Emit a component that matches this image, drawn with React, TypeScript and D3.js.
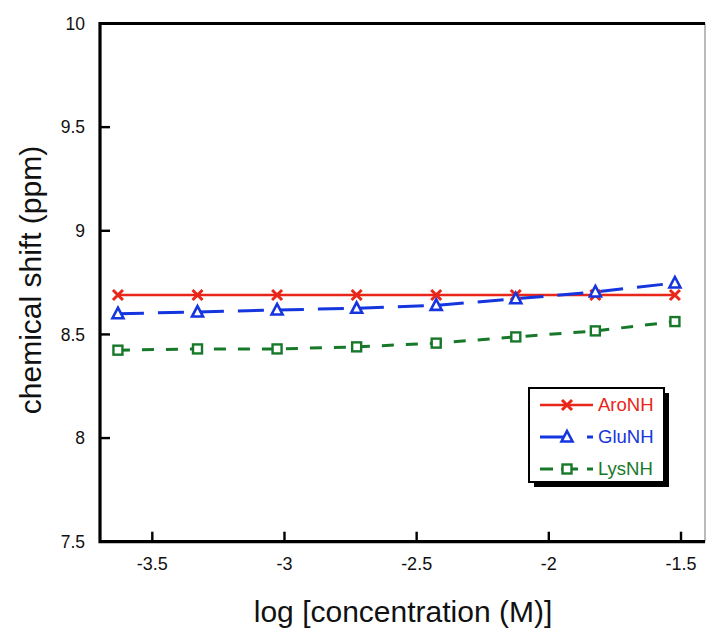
import React from "react";
import * as d3 from "d3";

const logConc = [-3.63, -3.329, -3.028, -2.727, -2.426, -2.125, -1.824, -1.523];
const aroNH = [8.69, 8.69, 8.69, 8.69, 8.69, 8.69, 8.69, 8.69];
const gluNH = [8.6, 8.608, 8.618, 8.626, 8.64, 8.672, 8.705, 8.748];
const lysNH = [8.424, 8.43, 8.43, 8.44, 8.458, 8.488, 8.517, 8.562];
const xTicks = [-3.5, -3, -2.5, -2, -1.5];
const yTicks = [7.5, 8, 8.5, 9, 9.5, 10];
const seriesNames = ["AroNH", "GluNH", "LysNH"];

const W = 706, H = 634;
const L = 100, R = 705, T = 23.5, B = 541.7;
const FONT = "'Liberation Sans', Arial, Helvetica, sans-serif";

const RED = "#e8261a";
const BLUE = "#1535de";
const GREEN = "#17782a";

function Marker({ kind, x, y, color }: { kind: string; x: number; y: number; color: string }) {
  if (kind === "x") {
    const s = 5;
    return (
      <path
        d={`M${x - s},${y - s}L${x + s},${y + s}M${x - s},${y + s}L${x + s},${y - s}`}
        stroke={color}
        strokeWidth={3}
        fill="none"
      />
    );
  }
  if (kind === "tri") {
    return (
      <path
        d={`M${x},${y - 6}L${x + 5.5},${y + 4.5}L${x - 5.5},${y + 4.5}Z`}
        stroke={color}
        strokeWidth={2.6}
        fill="white"
        strokeLinejoin="miter"
      />
    );
  }
  return <rect x={x - 4.5} y={y - 4.5} width={9} height={9} stroke={color} strokeWidth={2.4} fill="white" />;
}

export default function App() {
  const x = d3.scaleLinear().domain([-3.5, -1.5]).range([152.3, 681]);
  const y = d3.scaleLinear().domain([7.5, 10]).range([B, T]);

  const line = d3
    .line<number>()
    .x((_, i) => x(logConc[i]))
    .y((d) => y(d));

  const series = [
    { name: seriesNames[0], values: aroNH, color: RED, dash: "", marker: "x", width: 2.6 },
    { name: seriesNames[1], values: gluNH, color: BLUE, dash: "26,14", marker: "tri", width: 3 },
    { name: seriesNames[2], values: lysNH, color: GREEN, dash: "12,12", marker: "sq", width: 3 },
  ];

  const legX = 529, legY = 388, legW = 135, legH = 94;

  return (
    <svg width={W} height={H} style={{ position: "absolute", left: 0, top: 0, background: "white" }} fontFamily={FONT}>
      <rect x={0} y={0} width={W} height={H} fill="white" />
      {series.map((s) => (
        <path
          key={s.name}
          d={line(s.values) || ""}
          fill="none"
          stroke={s.color}
          strokeWidth={s.width}
          strokeDasharray={s.dash || undefined}
        />
      ))}
      {series.map((s) =>
        s.values.map((v, i) => (
          <Marker key={s.name + i} kind={s.marker} x={x(logConc[i])} y={y(v)} color={s.color} />
        ))
      )}

      <line x1={R} x2={R} y1={T} y2={B} stroke="#777" strokeWidth={1} />
      <path d={`M${R},${T}L${L},${T}L${L},${B}L${R},${B}`} fill="none" stroke="black" strokeWidth={3.2} />

      {yTicks.map((t) => (
        <g key={"y" + t}>
          {t > 7.5 && t < 10 && <line x1={L} x2={L + 10} y1={y(t)} y2={y(t)} stroke="black" strokeWidth={2.4} />}
          <text x={85} y={y(t)} dy="0.35em" textAnchor="end" fontSize={17.5} fill="#111">
            {String(t)}
          </text>
        </g>
      ))}
      {xTicks.map((t) => (
        <g key={"x" + t}>
          <line x1={x(t)} x2={x(t)} y1={B} y2={B - 10} stroke="black" strokeWidth={2.4} />
          <text x={x(t)} y={569.5} textAnchor="middle" fontSize={18} fill="#111">
            {String(t)}
          </text>
        </g>
      ))}

      <text x={403} y={622} textAnchor="middle" fontSize={30} fill="#111">
        log [concentration (M)]
      </text>
      <text transform={`translate(41,280) rotate(-90)`} textAnchor="middle" fontSize={30} fill="#111">
        chemical shift (ppm)
      </text>

      <rect x={legX + 5} y={legY + 5} width={legW} height={legH} fill="black" />
      <rect x={legX} y={legY} width={legW} height={legH} fill="white" stroke="black" strokeWidth={2} />
      {series.map((s, i) => {
        const cy = 405 + i * 32;
        return (
          <g key={"leg" + s.name}>
            {s.marker === "x" && <line x1={540} x2={593} y1={cy} y2={cy} stroke={s.color} strokeWidth={2.6} />}
            {s.marker === "tri" && (
              <>
                <line x1={540} x2={567} y1={cy} y2={cy} stroke={s.color} strokeWidth={3} />
                <line x1={587} x2={593} y1={cy} y2={cy} stroke={s.color} strokeWidth={3} />
              </>
            )}
            {s.marker === "sq" && (
              <>
                <line x1={540} x2={553} y1={cy} y2={cy} stroke={s.color} strokeWidth={3} />
                <line x1={561} x2={578} y1={cy} y2={cy} stroke={s.color} strokeWidth={3} />
                <line x1={587} x2={593} y1={cy} y2={cy} stroke={s.color} strokeWidth={3} />
              </>
            )}
            <Marker kind={s.marker} x={567} y={cy} color={s.color} />
            <text x={598} y={cy} dy="0.35em" fontSize={18.5} fill={s.color}>
              {s.name}
            </text>
          </g>
        );
      })}
    </svg>
  );
}
